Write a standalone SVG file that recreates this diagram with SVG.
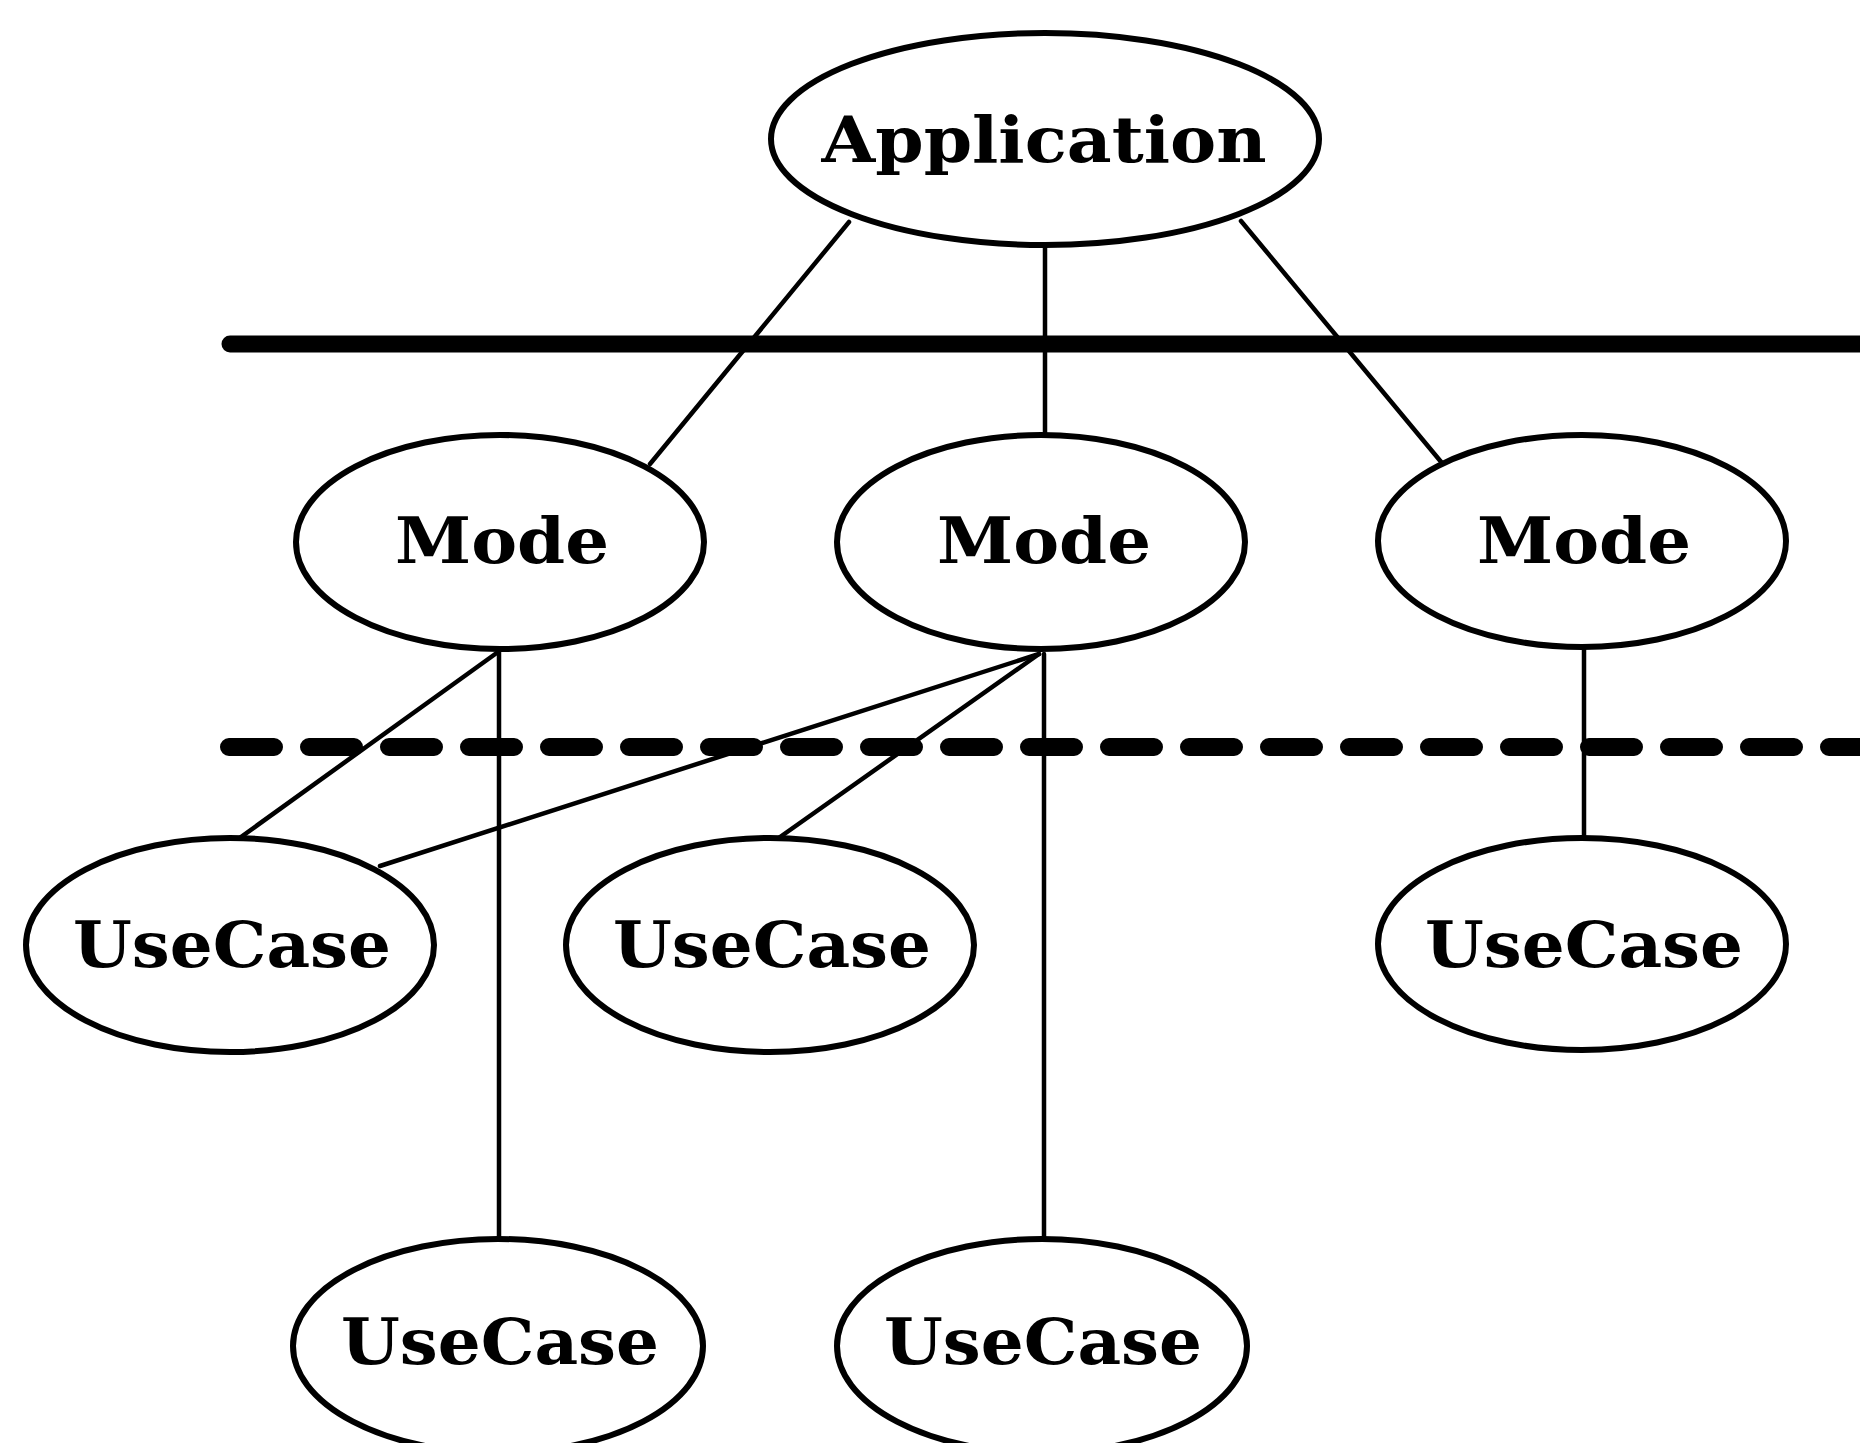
<svg xmlns="http://www.w3.org/2000/svg" width="1860" height="1443" viewBox="0 0 1860 1443">
<style>
.node ellipse{fill:#fff;stroke:#000;stroke-width:6}
.node text{font-family:"DejaVu Serif","Liberation Serif",serif;font-weight:bold;font-size:64px;text-anchor:middle;fill:#000}
.conn line{stroke:#000;stroke-width:4.5;stroke-linecap:round}
.sep{stroke:#000;stroke-linecap:round;fill:none}
</style>
<rect width="1860" height="1443" fill="#fff"/>
<g id="separators">
<line class="sep" x1="230" y1="344" x2="1870" y2="344" stroke-width="17"/>
<line class="sep" x1="229" y1="747" x2="1870" y2="747" stroke-width="18" stroke-dasharray="45 35"/>
</g>
<g id="connectors" class="conn">
<line x1="849" y1="222" x2="650" y2="464"/>
<line x1="1045" y1="246" x2="1045" y2="435"/>
<line x1="1241" y1="221" x2="1442" y2="463"/>
<line x1="498" y1="652" x2="234" y2="842"/>
<line x1="499" y1="652" x2="499" y2="1240"/>
<line x1="1039" y1="654" x2="380" y2="866"/>
<line x1="1039" y1="654" x2="773" y2="842"/>
<line x1="1044" y1="654" x2="1044" y2="1240"/>
<line x1="1584" y1="646" x2="1584" y2="839"/>
</g>
<g id="application" class="node">
<ellipse cx="1045" cy="139" rx="274" ry="106"/>
<text x="1044" y="162" textLength="445" lengthAdjust="spacingAndGlyphs">Application</text>
</g>
<g id="mode1" class="node">
<ellipse cx="500" cy="542" rx="204" ry="107"/>
<text x="502" y="563" textLength="214" lengthAdjust="spacingAndGlyphs">Mode</text>
</g>
<g id="mode2" class="node">
<ellipse cx="1041" cy="542" rx="204" ry="107"/>
<text x="1044" y="563" textLength="214" lengthAdjust="spacingAndGlyphs">Mode</text>
</g>
<g id="mode3" class="node">
<ellipse cx="1582" cy="541" rx="204" ry="106"/>
<text x="1584" y="563" textLength="214" lengthAdjust="spacingAndGlyphs">Mode</text>
</g>
<g id="usecase1" class="node">
<ellipse cx="230" cy="945" rx="204" ry="107"/>
<text x="232" y="967" textLength="318" lengthAdjust="spacingAndGlyphs">UseCase</text>
</g>
<g id="usecase2" class="node">
<ellipse cx="770" cy="945" rx="204" ry="107"/>
<text x="772" y="967" textLength="318" lengthAdjust="spacingAndGlyphs">UseCase</text>
</g>
<g id="usecase3" class="node">
<ellipse cx="1582" cy="944" rx="204" ry="106"/>
<text x="1584" y="967" textLength="318" lengthAdjust="spacingAndGlyphs">UseCase</text>
</g>
<g id="usecase4" class="node">
<ellipse cx="498" cy="1346" rx="205" ry="107"/>
<text x="500" y="1364" textLength="318" lengthAdjust="spacingAndGlyphs">UseCase</text>
</g>
<g id="usecase5" class="node">
<ellipse cx="1042" cy="1346" rx="205" ry="107"/>
<text x="1043" y="1364" textLength="318" lengthAdjust="spacingAndGlyphs">UseCase</text>
</g>
</svg>
